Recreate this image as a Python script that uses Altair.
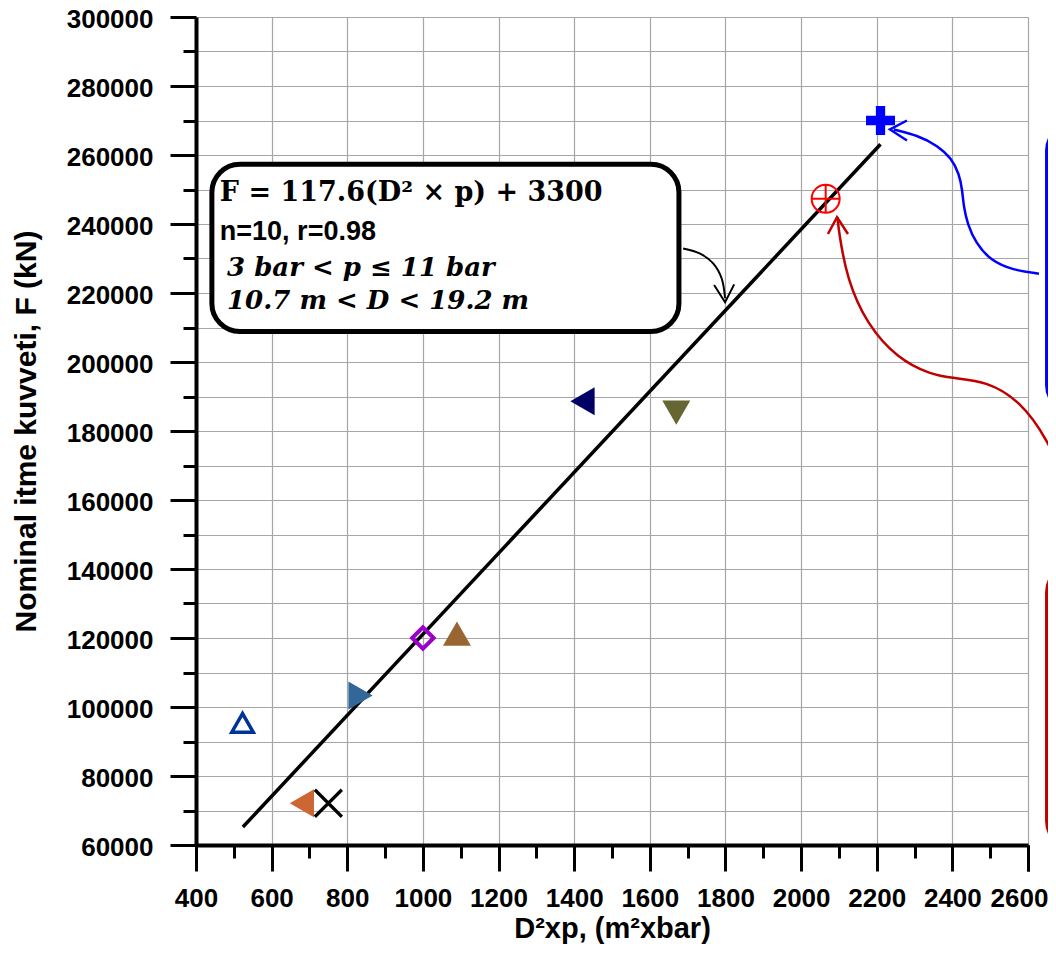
import altair as alt
import pandas as pd

# ---------------- data ----------------
series = ["S1", "S2", "S3", "S4", "S5", "S6", "S7", "S8", "S9", "S10"]
d2p = [523, 680, 750, 835, 1000, 1090, 1422, 1670, 2065, 2210]          # D^2 x p (m^2 x bar)
force = [95400, 72100, 72100, 103300, 120000, 121300, 188600, 185300, 247300, 270000]  # F (kN)

fit_x = [524, 2210]
fit_y = [65200, 263100]

x_major = list(range(400, 2601, 200))
x_minor = list(range(500, 2600, 200))
x_last = [2600]
y_major = list(range(60000, 300001, 20000))
y_minor = list(range(70000, 300000, 20000))

eq_text = ["F = 117.6(D² × p) + 3300", "n=10, r=0.98", "3 bar < p ≤ 11 bar", "10.7 m < D < 19.2 m"]
eq_x = [463, 463, 482, 482]
eq_y = [246600, 235400, 225000, 215500]

# callout box (data units)
box_x = [442, 1677]
box_y = [208850, 257300]

# arrows (data units)
blk_curve_x = [1688, 1733, 1768, 1790, 1799]
blk_curve_y = [232900, 231400, 228500, 224200, 218500]
blk_head_x = [1770, 1799, 1823]
blk_head_y = [222300, 217300, 222500]

blu_curve_x = [2629, 2560, 2500, 2462, 2440, 2430, 2426, 2418, 2398, 2360, 2310, 2245]
blu_curve_y = [225600, 226600, 229500, 234500, 240000, 245000, 250000, 254500, 259000, 262800, 265600, 267400]
blu_head_x = [2280, 2235, 2280]
blu_head_y = [270000, 267400, 264200]

red_curve_x = [2096, 2100, 2121, 2174, 2254, 2341, 2402, 2492, 2579, 2650, 2711]
red_curve_y = [242000, 237700, 224100, 210900, 201100, 196400, 195300, 194400, 188700, 178000, 162700]
red_head_x = [2071, 2095, 2124]
red_head_y = [237100, 242000, 237100]

# legend boxes at the right (cut off in the picture)
blue_box_x = [2653, 2950]
blue_box_y = [185800, 268800]
red_box_x = [2653, 2950]
red_box_y = [59400, 140800]

# ---------------- styles ----------------
X_PATH = "M-1,-1L1,1M-1,1L1,-1"
CPLUS_PATH = "M-1,0A1,1,0,1,1,1,0A1,1,0,1,1,-1,0ZM-1,0L1,0M0,-1L0,1"
PLUS_PATH = ("M-1,-0.32L-0.32,-0.32L-0.32,-1L0.32,-1L0.32,-0.32L1,-0.32L1,0.32"
             "L0.32,0.32L0.32,1L-0.32,1L-0.32,0.32L-1,0.32Z")

style = {
    "S1": ("triangle-up", "transparent", "#003399", 3.5, 460),
    "S2": ("triangle-left", "#CC6633", "#CC6633", 0, 784),
    "S3": (X_PATH, "transparent", "#000000", 3.2, 729),
    "S4": ("triangle-right", "#336699", "#336699", 0, 784),
    "S5": ("diamond", "transparent", "#9900CC", 4, 460),
    "S6": ("triangle-up", "#996633", "#996633", 0, 784),
    "S7": ("triangle-left", "#000066", "#000066", 0, 784),
    "S8": ("triangle-down", "#666633", "#666633", 0, 784),
    "S9": (CPLUS_PATH, "transparent", "#FF0000", 2, 784),
    "S10": (PLUS_PATH, "#0000FF", "#0000FF", 0, 841),
}

pts = pd.DataFrame({"name": series, "x": d2p, "y": force})
pts["shape"] = [style[s][0] for s in series]
pts["fill"] = [style[s][1] for s in series]
pts["stroke"] = [style[s][2] for s in series]
pts["sw"] = [style[s][3] for s in series]
pts["size"] = [style[s][4] for s in series]

xsc = alt.Scale(domain=[400, 2600], nice=False, zero=False)
ysc = alt.Scale(domain=[60000, 300000], nice=False, zero=False)

LBL = "Liberation Sans"
GRID = "#A6A6A6"

x_axis_major = alt.Axis(
    orient="bottom", values=x_major, format="d", labelFont=LBL, labelFontSize=26,
    labelFontWeight="bold", labelColor="black", labelPadding=14, labelFlush=False,
    labelOverlap=False, labelExpr="datum.value == 2600 ? '' : datum.label",
    tickSize=26, tickWidth=3, tickColor="black",
    domainColor="black", domainWidth=4, grid=True, gridColor=GRID, gridWidth=1.2,
    title="D²xp, (m²xbar)", titleFont=LBL, titleFontSize=29, titleFontWeight="bold",
    titleColor="black", titlePadding=3)
y_axis_major = alt.Axis(
    orient="left", values=y_major, format="d", labelFont=LBL, labelFontSize=26,
    labelFontWeight="bold", labelColor="black", labelPadding=17, labelFlush=False,
    labelOverlap=False, labelOffset=2, tickSize=26, tickWidth=3, tickColor="black",
    domainColor="black", domainWidth=4, grid=True, gridColor=GRID, gridWidth=1.2,
    title="Nominal itme kuvveti, F (kN)", titleFont=LBL, titleFontSize=30,
    titleFontWeight="bold", titleColor="black", titlePadding=25)
x_axis_minor = alt.Axis(
    orient="bottom", values=x_minor, labels=False, tickSize=13, tickWidth=3,
    tickColor="black", domain=False, grid=False, title=None)
x_axis_last = alt.Axis(
    orient="bottom", values=x_last, format="d", labelFont=LBL, labelFontSize=26,
    labelFontWeight="bold", labelColor="black", labelPadding=14, labelFlush=False,
    labelOverlap=False, labelOffset=-9, tickSize=26, tickWidth=3, tickColor="black",
    domain=False, grid=False, title=None)
y_axis_minor = alt.Axis(
    orient="left", values=y_minor, labels=False, tickSize=13, tickWidth=3,
    tickColor="black", domain=False, grid=True, gridColor=GRID, gridWidth=1.2, title=None)

# regression line (carries the minor axes)
fit_df = pd.DataFrame({"x": fit_x, "y": fit_y})
fit_layer = alt.Chart(fit_df).mark_line(color="black", strokeWidth=3.5).encode(
    x=alt.X("x:Q", scale=xsc, axis=x_axis_minor),
    y=alt.Y("y:Q", scale=ysc, axis=y_axis_minor),
)

# markers (carry the major axes)
pt_layer = alt.Chart(pts).mark_point(opacity=1, filled=False).encode(
    x=alt.X("x:Q", scale=xsc, axis=x_axis_major),
    y=alt.Y("y:Q", scale=ysc, axis=y_axis_major),
    shape=alt.Shape("shape:N", scale=None),
    fill=alt.Fill("fill:N", scale=None),
    stroke=alt.Stroke("stroke:N", scale=None),
    strokeWidth=alt.StrokeWidth("sw:Q", scale=None),
    size=alt.Size("size:Q", scale=None),
)


def rect_layer(bx, by, color, sw, radius, xaxis=None):
    df = pd.DataFrame({"x": [bx[0]], "x2": [bx[1]], "y": [by[0]], "y2": [by[1]]})
    return alt.Chart(df).mark_rect(
        fill="white", stroke=color, strokeWidth=sw, cornerRadius=radius, clip=False
    ).encode(
        x=alt.X("x:Q", scale=xsc, axis=xaxis), x2="x2:Q",
        y=alt.Y("y:Q", scale=ysc, axis=None), y2="y2:Q",
    )


def path_layer(px, py, color, sw, interp):
    df = pd.DataFrame({"x": px, "y": py, "o": list(range(len(px)))})
    return alt.Chart(df).mark_line(
        color=color, strokeWidth=sw, interpolate=interp, clip=False
    ).encode(
        x=alt.X("x:Q", scale=xsc, axis=None),
        y=alt.Y("y:Q", scale=ysc, axis=None),
        order="o:Q",
    )


def text_layer(idx, font, size, style_):
    df = pd.DataFrame({"x": [eq_x[i] for i in idx], "y": [eq_y[i] for i in idx],
                       "t": [eq_text[i] for i in idx]})
    return alt.Chart(df).mark_text(
        align="left", baseline="alphabetic", font=font, fontSize=size,
        fontWeight="bold", fontStyle=style_, color="black"
    ).encode(
        x=alt.X("x:Q", scale=xsc, axis=None),
        y=alt.Y("y:Q", scale=ysc, axis=None),
        text="t:N",
    )


chart = alt.layer(
    fit_layer,
    rect_layer(box_x, box_y, "black", 5, 28, xaxis=x_axis_last),
    text_layer([0], "DejaVu Serif", 27, "normal"),
    text_layer([1], LBL, 27, "normal"),
    text_layer([2, 3], "DejaVu Serif", 26, "italic"),
    path_layer(blk_curve_x, blk_curve_y, "black", 2, "catmull-rom"),
    path_layer(blk_head_x, blk_head_y, "black", 2, "linear"),
    rect_layer(blue_box_x, blue_box_y, "#0000FF", 6, 26),
    rect_layer(red_box_x, red_box_y, "#C00000", 6, 26),
    path_layer(blu_curve_x, blu_curve_y, "#0000FF", 2.5, "basis"),
    path_layer(blu_head_x, blu_head_y, "#0000FF", 2.5, "linear"),
    path_layer(red_curve_x, red_curve_y, "#C00000", 2.5, "basis"),
    path_layer(red_head_x, red_head_y, "#C00000", 2.5, "linear"),
    pt_layer,
).resolve_axis(x="independent", y="independent").properties(
    width=832, height=828,
    autosize=alt.AutoSizeParams(type="none"),
    padding={"left": 188, "top": 9, "right": 20, "bottom": 101},
).configure_view(stroke=None).configure(background="white")

chart.save("out.html", embed_options={"renderer": "svg", "actions": False})
